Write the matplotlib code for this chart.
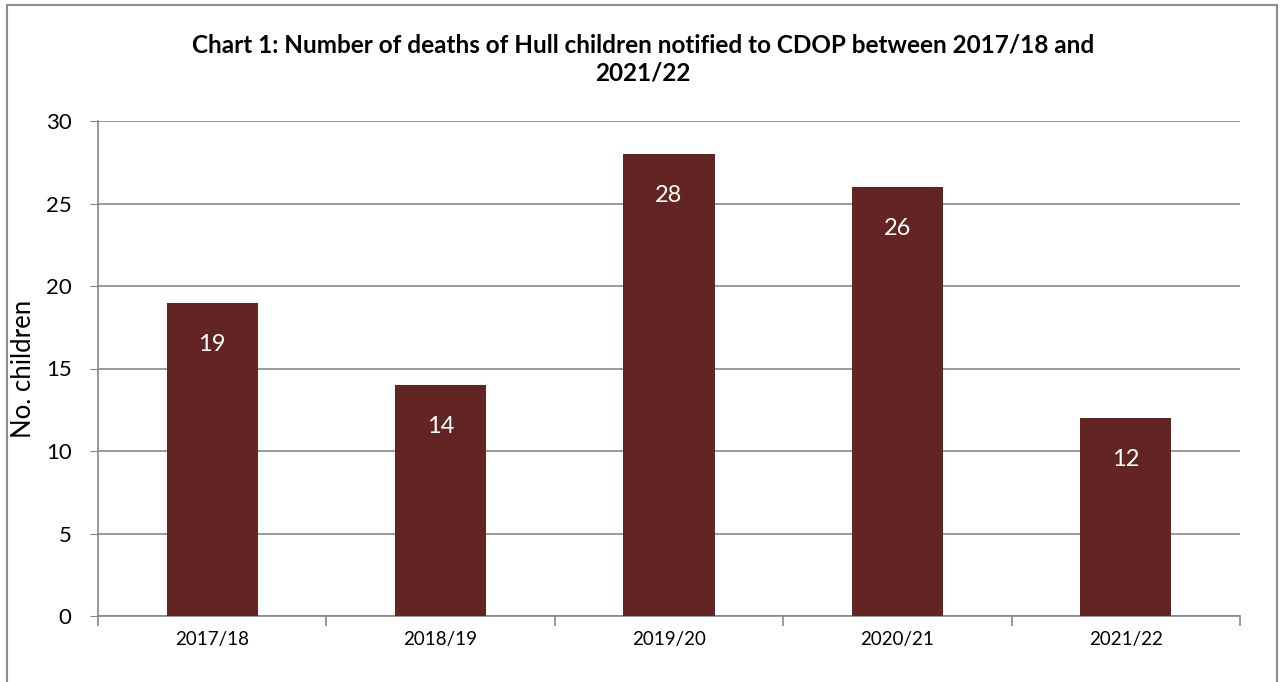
import matplotlib.pyplot as plt
from matplotlib.patches import Rectangle

years = ["2017/18", "2018/19", "2019/20", "2020/21", "2021/22"]
deaths = [19, 14, 28, 26, 12]

bar_color = "#632523"
grid_color = "#878787"

plt.rcParams['font.family'] = ['Lato', 'DejaVu Sans']

fig = plt.figure(figsize=(12.86, 6.82), dpi=100)
ax = fig.add_axes([98 / 1286, 1 - 616 / 682, 1142 / 1286, 495 / 682])

x = range(len(years))
bars = ax.bar(x, deaths, width=0.4, color=bar_color, zorder=3)

for xi, v in zip(x, deaths):
    ax.annotate(str(v), (xi, v), xytext=(0, -30), textcoords='offset points',
                ha='center', va='center', color='white', fontsize=17, zorder=4)

ax.set_xlim(-0.5, len(years) - 0.5)
ax.set_ylim(0, 30)
ax.set_yticks(range(0, 31, 5))
ax.tick_params(axis='y', labelsize=16, length=6, color=grid_color, pad=13)
ax.set_xticks(list(x))
ax.set_xticklabels(years, fontsize=13.5)
ax.tick_params(axis='x', length=0, pad=11)
ax.set_xticks([i - 0.5 for i in range(len(years) + 1)], minor=True)
ax.tick_params(axis='x', which='minor', length=7, color=grid_color, width=1.2)

ax.yaxis.grid(True, color=grid_color, linewidth=1.2, zorder=0)
ax.set_axisbelow(True)
for side in ['top', 'right']:
    ax.spines[side].set_visible(False)
for side in ['left', 'bottom']:
    ax.spines[side].set_color(grid_color)
    ax.spines[side].set_linewidth(1.2)

ax.set_ylabel("No. children", fontsize=18.5, labelpad=7)

fig.text(0.5, 1 - 59 / 682, "Chart 1: Number of deaths of Hull children notified to CDOP between 2017/18 and\n2021/22",
         ha='center', va='center', fontsize=17.5, fontweight='bold', linespacing=1.3)

fig.patches.append(Rectangle((7 / 1286, -0.05), 1270 / 1286, 1.05 - 5 / 682,
                             transform=fig.transFigure, fill=False,
                             edgecolor="#8c8c8c", linewidth=1.5))

fig.savefig("out.png", dpi=100)
